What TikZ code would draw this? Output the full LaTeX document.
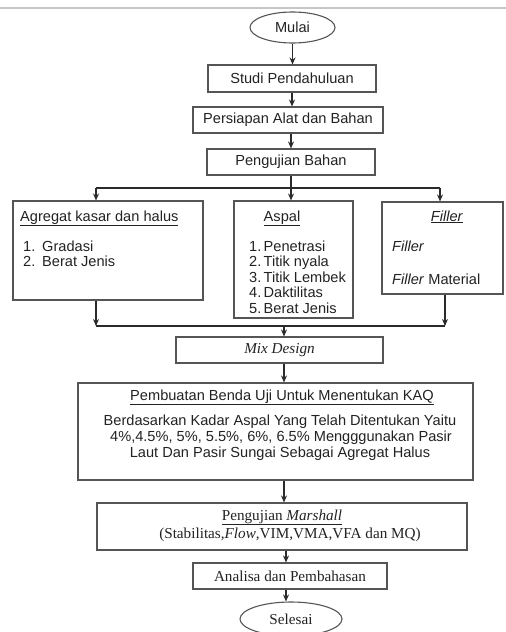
\documentclass[tikz,border=0pt]{standalone}
\usepackage{fontspec}
\setmainfont{Liberation Serif}
\newfontfamily\arialf{Liberation Sans}
\usetikzlibrary{arrows.meta,shapes.geometric}
\definecolor{boxc}{HTML}{555555}
\definecolor{linec}{HTML}{2A2A2A}
\definecolor{txtc}{HTML}{222222}
\begin{document}
\begin{tikzpicture}[x=1pt,y=-1pt,
  box/.style={draw=boxc, line width=1.1pt, inner sep=0pt},
  txt/.style={font=\arialf\fontsize{14.6}{16}\selectfont, text=txtc, inner sep=0pt},
  rtxt/.style={font=\fontsize{15.2}{16}\selectfont, text=txtc, inner sep=0pt},
  arr/.style={draw=linec, line width=1.1pt, -{Stealth[length=7pt,width=6pt]}},
  ln/.style={draw=linec, line width=1.1pt}]
\useasboundingbox (0,0) rectangle (506,632);
\draw[gray!45, line width=2pt] (0,8) -- (506,8);

% main chain (top)
\node[box, ellipse, txt, minimum width=85pt, minimum height=31pt] (mulai) at (292.5,27.5) {Mulai};
\node[box, txt, minimum width=168pt, minimum height=27pt] (studi) at (292,78.5) {Studi Pendahuluan};
\node[box, txt, minimum width=190pt, minimum height=26pt] (pers) at (288,120) {Persiapan Alat dan Bahan};
\node[box, txt, minimum width=168pt, minimum height=26pt] (peng) at (291,162) {Pengujian Bahan};

% three material boxes
\node[box, minimum width=190pt, minimum height=99pt] (agg) at (108,250.5) {};
\node[box, minimum width=119pt, minimum height=117pt] (asp) at (293.5,259.5) {};
\node[box, minimum width=121pt, minimum height=92pt] (fil) at (442.5,248) {};

\node[txt, anchor=base west] (aggt) at (20,221) {\underline{Agregat kasar dan halus}};
\node[txt, anchor=base west] (agg1) at (23,251) {\makebox[19pt][l]{1.}Gradasi};
\node[txt, anchor=base west] (agg2) at (23,266) {\makebox[19pt][l]{2.}Berat Jenis};

\node[txt, anchor=base] (aspt) at (282,221) {\underline{Aspal}};
\node[txt, anchor=base west] (asp1) at (249,251) {\makebox[14.5pt][l]{1.}Penetrasi};
\node[txt, anchor=base west] (asp2) at (249,266.5) {\makebox[14.5pt][l]{2.}Titik nyala};
\node[txt, anchor=base west] (asp3) at (249,282) {\makebox[14.5pt][l]{3.}Titik Lembek};
\node[txt, anchor=base west] (asp4) at (249,297.5) {\makebox[14.5pt][l]{4.}Daktilitas};
\node[txt, anchor=base west] (asp5) at (249,313) {\makebox[14.5pt][l]{5.}Berat Jenis};

\node[txt, anchor=base] (filt) at (447,221) {\underline{\textit{Filler}}};
\node[txt, anchor=base west] (fil1) at (392,251) {\textit{Filler}};
\node[txt, anchor=base west] (fil2) at (392,284) {\textit{Filler} Material};

% lower chain
\node[box, rtxt, minimum width=207pt, minimum height=26pt] (mix) at (279.5,350) {\textit{Mix Design}};
\node[box, minimum width=395pt, minimum height=97pt] (pemb) at (275.5,431.5) {};
\node[txt, anchor=base] (pembt) at (282,400) {\underline{Pembuatan Benda Uji Untuk Menentukan KAQ}};
\node[txt, anchor=base] (pemb1) at (280,425) {Berdasarkan Kadar Aspal Yang Telah Ditentukan Yaitu};
\node[txt, anchor=base] (pemb2) at (281,441) {4\%,4.5\%, 5\%, 5.5\%, 6\%, 6.5\% Mengggunakan Pasir};
\node[txt, anchor=base] (pemb3) at (280,457) {Laut Dan Pasir Sungai Sebagai Agregat Halus};

\node[box, minimum width=370pt, minimum height=47pt] (mar) at (282,526.5) {};
\node[rtxt, anchor=base] (mart) at (282,520) {\underline{Pengujian \textit{Marshall}}};
\node[rtxt, anchor=base] (mar1) at (290,538.5) {(Stabilitas,\textit{Flow},VIM,VMA,VFA dan MQ)};

\node[box, rtxt, minimum width=194pt, minimum height=26pt] (ana) at (290,576) {Analisa dan Pembahasan};
\node[box, rtxt, ellipse, minimum width=102pt, minimum height=34pt] (sel) at (291,619) {Selesai};

% connector coordinates
\coordinate (bl) at (96,188);
\coordinate (brr) at (440,188);
\coordinate (ml) at (96,326);
\coordinate (mr) at (445,326);
\coordinate (mm) at (284,326);
\coordinate (ax) at (286,0);

% connectors
\draw[arr] (mulai.south) -- (mulai.south |- studi.north);
\draw[arr] (studi.south) -- (studi.south |- pers.north);
\draw[arr] (peng.north |- pers.south) -- (peng.north);
\draw[arr] (peng.south) -- (peng.south |- asp.north);
\draw[ln] (bl) -- (brr);
\draw[arr] (bl) -- (bl |- agg.north);
\draw[arr] (brr) -- (brr |- fil.north);
\draw[arr] (ml |- agg.south) -- (ml);
\draw[arr] (mr |- fil.south) -- (mr);
\draw[ln] (ml) -- (mr);
\draw[arr] (mm) -- (mm |- mix.north);
\draw[arr] (mm |- mix.south) -- (mm |- pemb.north);
\draw[arr] (mm |- pemb.south) -- (mm |- mar.north);
\draw[arr] (ax |- mar.south) -- (ax |- ana.north);
\draw[arr] (ax |- ana.south) -- (ax |- sel.north);
\end{tikzpicture}
\end{document}
